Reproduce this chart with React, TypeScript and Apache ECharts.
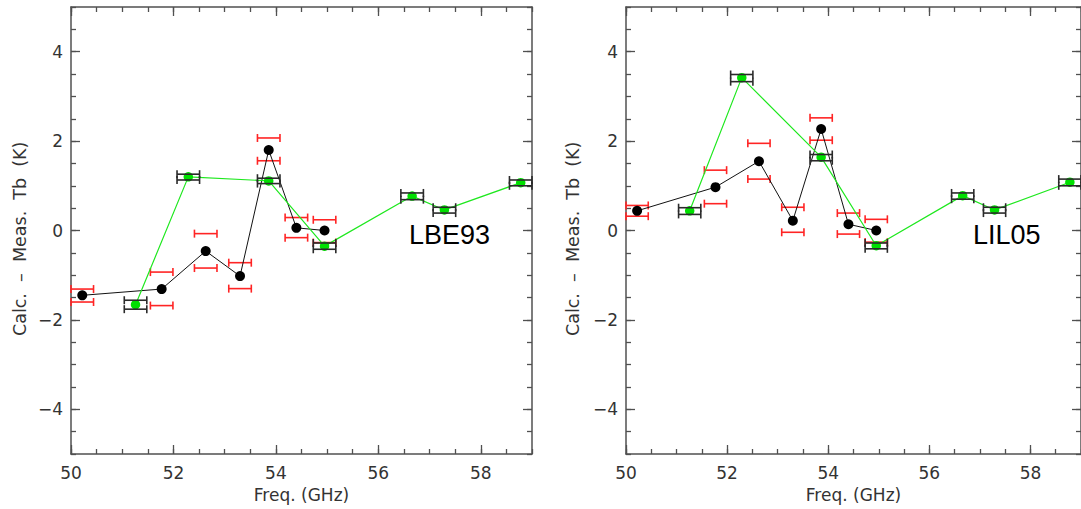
import { useEffect, useRef } from 'react';
import * as echarts from 'echarts';

// ---- Data ----
const xMajorTicks = [50, 52, 54, 56, 58];
const xMinorTicks = [50, 50.5, 51, 51.5, 52, 52.5, 53, 53.5, 54, 54.5, 55, 55.5, 56, 56.5, 57, 57.5, 58, 58.5, 59];
const yMajorTicks = [-4, -2, 0, 2, 4];
const yMinorTicks = [-5, -4.5, -4, -3.5, -3, -2.5, -2, -1.5, -1, -0.5, 0, 0.5, 1, 1.5, 2, 2.5, 3, 3.5, 4, 4.5, 5];

const panelNames = ['LBE93', 'LIL05'];

// channel half bandwidth (GHz) used for the horizontal error bars
const BAR_HALF = 0.22;

// black points (model channels) frequencies
const blackFreq = [50.22, 51.77, 52.63, 53.3, 53.86, 54.4, 54.95];
// green points frequencies
const greenFreq = [51.26, 52.29, 53.86, 54.95, 56.66, 57.29, 58.78];

// LBE93 panel
const blackDiffLBE = [-1.45, -1.31, -0.46, -1.02, 1.8, 0.06, 0.0];
const redHighLBE = [-1.31, -0.93, -0.07, -0.72, 2.07, 0.29, 0.24];
const redLowLBE = [-1.6, -1.68, -0.84, -1.3, 1.56, -0.16, -0.27];
const greenDiffLBE = [-1.66, 1.2, 1.11, -0.35, 0.77, 0.46, 1.07];
const greenHighLBE = [-1.56, 1.26, 1.17, -0.28, 0.84, 0.52, 1.13];
const greenLowLBE = [-1.76, 1.13, 1.05, -0.42, 0.69, 0.39, 1.0];

// LIL05 panel
const blackDiffLIL = [0.44, 0.97, 1.55, 0.22, 2.27, 0.14, 0.0];
const redHighLIL = [0.56, 1.35, 1.95, 0.52, 2.52, 0.39, 0.25];
const redLowLIL = [0.32, 0.6, 1.15, -0.04, 2.02, -0.08, -0.26];
const greenDiffLIL = [0.44, 3.42, 1.64, -0.34, 0.78, 0.46, 1.08];
const greenHighLIL = [0.51, 3.49, 1.7, -0.28, 0.84, 0.52, 1.15];
const greenLowLIL = [0.36, 3.33, 1.56, -0.41, 0.7, 0.39, 1.0];

// ---- Styles ----
const AXIS_COLOR = '#505050';
const TEXT_COLOR = '#333';
const FONT = '"DejaVu Sans", sans-serif';
const CAP = 4;
const SP = '\u00a0\u00a0';

const gridLefts = [71, 626];
const yNameGaps = [42, 44];

function errBar(color: string, width: number) {
  return (_params: any, api: any) => {
    const x = api.value(0);
    const y = api.value(1);
    const p1 = api.coord([x - BAR_HALF, y]);
    const p2 = api.coord([x + BAR_HALF, y]);
    const style = { stroke: color, lineWidth: width };
    return {
      type: 'group',
      children: [
        { type: 'line', shape: { x1: p1[0], y1: p1[1], x2: p2[0], y2: p2[1] }, style },
        { type: 'line', shape: { x1: p1[0], y1: p1[1] - CAP, x2: p1[0], y2: p1[1] + CAP }, style },
        { type: 'line', shape: { x1: p2[0], y1: p2[1] - CAP, x2: p2[0], y2: p2[1] + CAP }, style },
      ],
    };
  };
}

function xAxesFor(g: number) {
  const line = { show: true, onZero: false, lineStyle: { color: AXIS_COLOR, width: 1.5 } };
  const base = { gridIndex: g, type: 'value', min: 50, max: 59, splitLine: { show: false } };
  const tick = (vals: number[], len: number) => ({
    show: true, inside: true, length: len, customValues: vals,
    lineStyle: { color: AXIS_COLOR, width: 1.3 },
  });
  return [
    {
      ...base, position: 'bottom', axisLine: line, axisTick: tick(xMajorTicks, 9),
      axisLabel: { show: true, customValues: xMajorTicks, margin: 10, fontSize: 17, fontFamily: FONT, color: TEXT_COLOR },
      name: 'Freq. (GHz)', nameLocation: 'middle', nameGap: 32,
      nameTextStyle: { fontSize: 17, fontFamily: FONT, color: TEXT_COLOR },
    },
    { ...base, position: 'bottom', axisLine: { show: false, onZero: false }, axisTick: tick(xMinorTicks, 5), axisLabel: { show: false } },
    { ...base, position: 'top', axisLine: line, axisTick: tick(xMajorTicks, 9), axisLabel: { show: false } },
    { ...base, position: 'top', axisLine: { show: false, onZero: false }, axisTick: tick(xMinorTicks, 5), axisLabel: { show: false } },
  ];
}

function yAxesFor(g: number) {
  const line = { show: true, onZero: false, lineStyle: { color: AXIS_COLOR, width: 1.5 } };
  const base = { gridIndex: g, type: 'value', min: -5, max: 5, splitLine: { show: false } };
  const tick = (vals: number[], len: number) => ({
    show: true, inside: true, length: len, customValues: vals,
    lineStyle: { color: AXIS_COLOR, width: 1.3 },
  });
  return [
    {
      ...base, position: 'left', axisLine: line, axisTick: tick(yMajorTicks, 9),
      axisLabel: {
        show: true, customValues: yMajorTicks, margin: 8, fontSize: 17, fontFamily: FONT, color: TEXT_COLOR,
        formatter: (v: number) => (v < 0 ? '\u2212' + Math.abs(v) : String(v)),
      },
      name: 'Calc.' + SP + '\u2013' + SP + 'Meas.' + SP + 'Tb' + SP + '(K)' + '\u00a0\u00a0\u00a0',
      nameLocation: 'middle', nameGap: yNameGaps[g],
      nameTextStyle: { fontSize: 17.5, fontFamily: FONT, color: TEXT_COLOR },
    },
    { ...base, position: 'left', axisLine: { show: false, onZero: false }, axisTick: tick(yMinorTicks, 5), axisLabel: { show: false } },
    { ...base, position: 'right', axisLine: line, axisTick: tick(yMajorTicks, 9), axisLabel: { show: false } },
    { ...base, position: 'right', axisLine: { show: false, onZero: false }, axisTick: tick(yMinorTicks, 5), axisLabel: { show: false } },
  ];
}

function seriesFor(
  g: number,
  blackDiff: number[], redHigh: number[], redLow: number[],
  greenDiff: number[], greenHigh: number[], greenLow: number[],
) {
  const ax = { xAxisIndex: 4 * g, yAxisIndex: 4 * g };
  const redData = blackFreq.map((f, i) => [f, redHigh[i]]).concat(blackFreq.map((f, i) => [f, redLow[i]]));
  const blkData = greenFreq.map((f, i) => [f, greenHigh[i]]).concat(greenFreq.map((f, i) => [f, greenLow[i]]));
  return [
    {
      type: 'custom', ...ax, silent: true, z: 2, renderItem: errBar('#ff2424', 1.6),
      encode: { x: 0, y: 1 }, data: redData,
    },
    {
      type: 'line', ...ax, silent: true, z: 3, symbol: 'circle', symbolSize: 10, showAllSymbol: true,
      lineStyle: { color: '#111', width: 1 }, itemStyle: { color: '#000' },
      data: blackFreq.map((f, i) => [f, blackDiff[i]]),
    },
    {
      type: 'line', ...ax, silent: true, z: 4, symbol: 'circle', symbolSize: 9.5, showAllSymbol: true,
      lineStyle: { color: '#1fe81f', width: 1.2 }, itemStyle: { color: '#00e000' },
      data: greenFreq.map((f, i) => [f, greenDiff[i]]),
    },
    {
      type: 'custom', ...ax, silent: true, z: 5, renderItem: errBar('#2a2a2a', 1.6),
      encode: { x: 0, y: 1 }, data: blkData,
    },
  ];
}

export default function App() {
  const ref = useRef<HTMLDivElement>(null);
  useEffect(() => {
    if (!ref.current) return;
    const chart = echarts.init(ref.current, null, { renderer: 'svg' });
    const option: any = {
      animation: false,
      backgroundColor: '#fff',
      grid: gridLefts.map((l) => ({ left: l, top: 7, width: 461, height: 447 })),
      xAxis: [...xAxesFor(0), ...xAxesFor(1)],
      yAxis: [...yAxesFor(0), ...yAxesFor(1)],
      series: [
        ...seriesFor(0, blackDiffLBE, redHighLBE, redLowLBE, greenDiffLBE, greenHighLBE, greenLowLBE),
        ...seriesFor(1, blackDiffLIL, redHighLIL, redLowLIL, greenDiffLIL, greenHighLIL, greenLowLIL),
      ],
      graphic: [
        {
          type: 'text', x: 409, y: 235, silent: true, z: 10,
          style: { text: panelNames[0], font: '27px "Liberation Sans", Arial, sans-serif', fill: '#000', align: 'left', verticalAlign: 'middle' },
        },
        {
          type: 'text', x: 973, y: 235, silent: true, z: 10,
          style: { text: panelNames[1], font: '27px "Liberation Sans", Arial, sans-serif', fill: '#000', align: 'left', verticalAlign: 'middle' },
        },
      ],
    };
    chart.setOption(option);
    return () => chart.dispose();
  }, []);
  return (
    <div
      ref={ref}
      style={{ position: 'fixed', left: 0, top: 0, width: 1081, height: 509, background: '#fff' }}
    />
  );
}
